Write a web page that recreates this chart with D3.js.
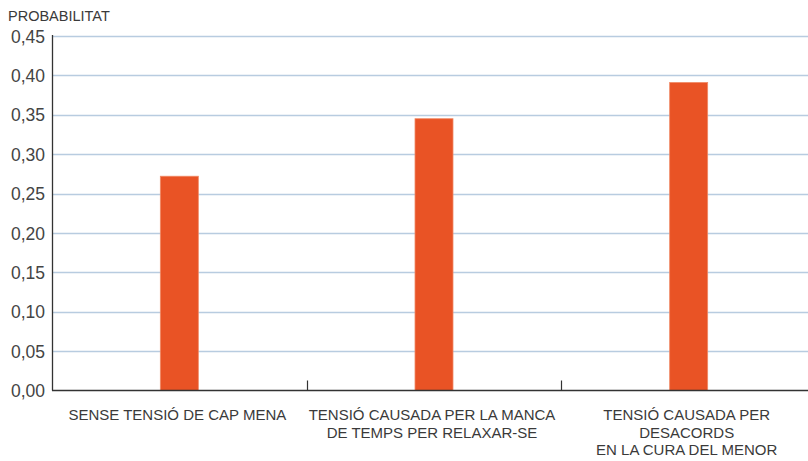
<!DOCTYPE html>
<html>
<head>
<meta charset="utf-8">
<script src="https://cdn.jsdelivr.net/npm/d3@7"></script>
<style>
  body { margin: 0; background: #fff; }
  svg text { font-family: "Liberation Sans", "Helvetica Neue", Arial, sans-serif; }
</style>
</head>
<body>
<svg width="808" height="461"></svg>
<script>
var categories = [
    ["SENSE TENSIÓ DE CAP MENA"],
    ["TENSIÓ CAUSADA PER LA MANCA", "DE TEMPS PER RELAXAR-SE"],
    ["TENSIÓ CAUSADA PER", "DESACORDS", "EN LA CURA DEL MENOR"]
];
var values = [0.272, 0.345, 0.391];
var yTicks = [0, 0.05, 0.10, 0.15, 0.20, 0.25, 0.30, 0.35, 0.40, 0.45];

var margin = { left: 52, right: 816, top: 36, bottom: 390.5 };

var svg = d3.select("svg");

var x = d3.scaleBand()
    .domain(d3.range(categories.length))
    .range([margin.left, margin.right])
    .paddingInner(0)
    .paddingOuter(0);

var y = d3.scaleLinear()
    .domain([0, 0.45])
    .range([margin.bottom, margin.top]);

var fmt = function(d) { return d3.format(".2f")(d).replace(".", ","); };

// gridlines
svg.append("g")
    .selectAll("line")
    .data(yTicks.filter(function(d) { return d > 0; }))
    .enter().append("line")
    .attr("x1", margin.left)
    .attr("x2", 808)
    .attr("y1", function(d) { return Math.round(y(d)) + 0.5; })
    .attr("y2", function(d) { return Math.round(y(d)) + 0.5; })
    .attr("stroke", "#b8cce0")
    .attr("stroke-width", 1.3);

// bars
var barW = 38;
svg.append("g")
    .selectAll("rect")
    .data(values)
    .enter().append("rect")
    .attr("x", function(d, i) { return x(i) + x.bandwidth() / 2 - barW / 2; })
    .attr("y", function(d) { return y(d); })
    .attr("width", barW)
    .attr("height", function(d) { return y(0) - y(d); })
    .attr("fill", "#e95325")
    .attr("stroke", "#f08a66")
    .attr("stroke-width", 0.8);

// y axis
var yAxis = d3.axisLeft(y)
    .tickValues(yTicks)
    .tickFormat(fmt)
    .tickSize(0)
    .tickPadding(7);

var gy = svg.append("g")
    .attr("transform", "translate(" + margin.left + ",0)")
    .call(yAxis);
gy.select(".domain").remove();
gy.selectAll("text")
    .attr("font-size", 17.5)
    .attr("font-family", "'Liberation Sans', Arial, sans-serif")
    .attr("fill", "#444")
    .attr("dy", "0.35em");

svg.append("line")
    .attr("x1", margin.left + 0.5).attr("x2", margin.left + 0.5)
    .attr("y1", margin.top - 1).attr("y2", margin.bottom)
    .attr("stroke", "#333").attr("stroke-width", 1.3);

// x axis
svg.append("line")
    .attr("x1", margin.left).attr("x2", 808)
    .attr("y1", margin.bottom).attr("y2", margin.bottom)
    .attr("stroke", "#333").attr("stroke-width", 1.5);

svg.append("g")
    .selectAll("line")
    .data(d3.range(1, categories.length))
    .enter().append("line")
    .attr("x1", function(i) { return Math.round(x(i)) + 0.5; })
    .attr("x2", function(i) { return Math.round(x(i)) + 0.5; })
    .attr("y1", margin.bottom - 10)
    .attr("y2", margin.bottom)
    .attr("stroke", "#333")
    .attr("stroke-width", 1.2);

// category labels
var lab = svg.append("g")
    .selectAll("text")
    .data(categories)
    .enter().append("text")
    .attr("x", function(d, i) { return x(i) + x.bandwidth() / 2 - 2; })
    .attr("y", 420)
    .attr("text-anchor", "middle")
    .attr("font-size", 15)
    .attr("fill", "#3a3a3a");
lab.selectAll("tspan")
    .data(function(d) { return d; })
    .enter().append("tspan")
    .attr("x", function() { return d3.select(this.parentNode).attr("x"); })
    .attr("dy", function(d, i) { return i === 0 ? 0 : 17.5; })
    .text(function(d) { return d; });

// axis title
svg.append("text")
    .attr("x", 8)
    .attr("y", 21)
    .attr("font-size", 14.5)
    .attr("fill", "#3a3a3a")
    .text("PROBABILITAT");
</script>
</body>
</html>
